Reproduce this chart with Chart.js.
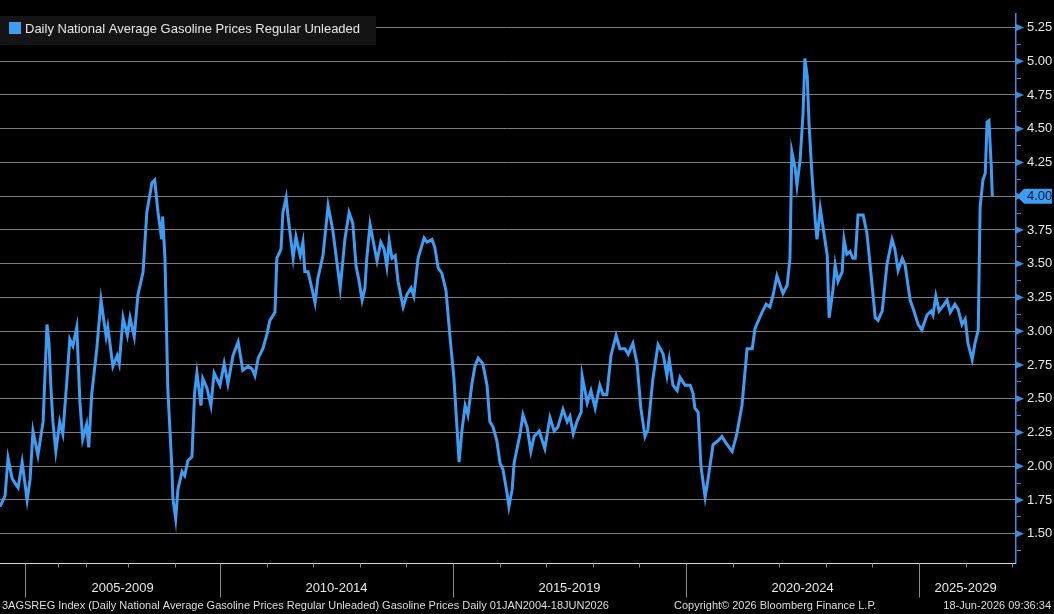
<!DOCTYPE html>
<html>
<head>
<meta charset="utf-8">
<script src="https://cdn.jsdelivr.net/npm/chart.js@4.4.1/dist/chart.umd.min.js"></script>
<style>
  html, body { margin: 0; padding: 0; background: #000; }
  #wrap { width: 1054px; height: 614px; position: relative; }
</style>
</head>
<body>
<div id="wrap"><canvas id="chart"></canvas></div>
<script>
const SERIES_LABEL = "Daily National Average Gasoline Prices Regular Unleaded";
const PERIODS = ["2005-2009", "2010-2014", "2015-2019", "2020-2024", "2025-2029"];
const PERIOD_STARTS = [2005, 2010, 2015, 2020, 2025];
const Y_TICKS = [1.50, 1.75, 2.00, 2.25, 2.50, 2.75, 3.00, 3.25, 3.50, 3.75, 4.00, 4.25, 4.50, 4.75, 5.00, 5.25];
const LAST_VALUE = 4.00;
const FOOTER_LEFT = "3AGSREG Index (Daily National Average Gasoline Prices Regular Unleaded) Gasoline Prices Daily 01JAN2004-18JUN2026";
const FOOTER_MID = "Copyright\u00a9 2026 Bloomberg Finance L.P.";
const FOOTER_RIGHT = "18-Jun-2026 09:36:34";

// decimal year
const DATES = [
  2004.00, 2004.20, 2004.32, 2004.48, 2004.68, 2004.72, 2004.88, 2005.06, 2005.15, 2005.24,
  2005.39, 2005.55, 2005.67, 2005.73, 2005.79, 2005.85, 2005.94, 2006.07, 2006.18, 2006.32,
  2006.43, 2006.54, 2006.68, 2006.79, 2006.89, 2007.02, 2007.07, 2007.14, 2007.26, 2007.36,
  2007.48, 2007.52, 2007.64, 2007.74, 2007.79, 2007.88, 2007.98, 2008.04, 2008.13, 2008.21,
  2008.32, 2008.40, 2008.51, 2008.57, 2008.64, 2008.72, 2008.74, 2008.79, 2008.85, 2008.89,
  2008.94, 2008.96, 2009.02, 2009.07, 2009.16, 2009.22, 2009.29, 2009.38, 2009.44, 2009.49,
  2009.58, 2009.62, 2009.71, 2009.80, 2009.87, 2010.00, 2010.09, 2010.17, 2010.28, 2010.39,
  2010.49, 2010.60, 2010.69, 2010.75, 2010.82, 2010.92, 2011.01, 2011.07, 2011.18, 2011.22,
  2011.31, 2011.35, 2011.42, 2011.46, 2011.57, 2011.63, 2011.72, 2011.78, 2011.82, 2011.89,
  2011.97, 2012.04, 2012.10, 2012.21, 2012.32, 2012.42, 2012.58, 2012.68, 2012.77, 2012.85,
  2012.92, 2012.98, 2013.05, 2013.11, 2013.15, 2013.22, 2013.28, 2013.37, 2013.45, 2013.52,
  2013.58, 2013.63, 2013.69, 2013.76, 2013.82, 2013.93, 2014.01, 2014.10, 2014.16, 2014.25,
  2014.38, 2014.44, 2014.55, 2014.61, 2014.68, 2014.76, 2014.85, 2014.94, 2015.02, 2015.09,
  2015.13, 2015.19, 2015.26, 2015.32, 2015.41, 2015.47, 2015.54, 2015.64, 2015.73, 2015.79,
  2015.86, 2015.94, 2016.01, 2016.07, 2016.16, 2016.20, 2016.27, 2016.31, 2016.35, 2016.44,
  2016.50, 2016.59, 2016.67, 2016.74, 2016.85, 2016.97, 2017.08, 2017.17, 2017.25, 2017.36,
  2017.45, 2017.51, 2017.58, 2017.66, 2017.75, 2017.77, 2017.88, 2017.96, 2018.05, 2018.15,
  2018.22, 2018.30, 2018.39, 2018.50, 2018.58, 2018.69, 2018.76, 2018.86, 2018.95, 2019.03,
  2019.12, 2019.18, 2019.29, 2019.40, 2019.51, 2019.59, 2019.64, 2019.72, 2019.81, 2019.87,
  2019.98, 2020.09, 2020.15, 2020.19, 2020.26, 2020.32, 2020.41, 2020.47, 2020.58, 2020.69,
  2020.77, 2020.88, 2020.99, 2021.09, 2021.20, 2021.31, 2021.42, 2021.48, 2021.63, 2021.72,
  2021.80, 2021.87, 2021.95, 2022.02, 2022.08, 2022.17, 2022.23, 2022.27, 2022.34, 2022.38,
  2022.45, 2022.51, 2022.55, 2022.60, 2022.64, 2022.70, 2022.77, 2022.81, 2022.88, 2022.94,
  2023.03, 2023.07, 2023.15, 2023.20, 2023.26, 2023.35, 2023.39, 2023.45, 2023.52, 2023.58,
  2023.63, 2023.69, 2023.80, 2023.88, 2023.95, 2024.06, 2024.12, 2024.21, 2024.31, 2024.42,
  2024.48, 2024.55, 2024.64, 2024.70, 2024.81, 2024.89, 2024.98, 2025.06, 2025.17, 2025.26,
  2025.30, 2025.36, 2025.43, 2025.52, 2025.60, 2025.67, 2025.77, 2025.84, 2025.92, 2025.99,
  2026.05, 2026.14, 2026.20, 2026.27, 2026.31, 2026.37, 2026.42, 2026.46, 2026.50, 2026.55,
  2026.57, 2026.59,
];

// USD per gallon
const PRICES = [
  1.70, 1.78, 2.06, 1.91, 1.85, 1.84, 2.03, 1.75, 1.90, 2.26,
  2.08, 2.33, 3.05, 2.91, 2.58, 2.33, 2.11, 2.33, 2.24, 2.62,
  2.94, 2.89, 3.03, 2.48, 2.20, 2.31, 2.14, 2.53, 2.87, 3.23,
  2.96, 3.03, 2.74, 2.82, 2.76, 3.10, 2.97, 3.10, 2.96, 3.27,
  3.44, 3.88, 4.10, 4.12, 3.88, 3.68, 3.85, 3.54, 2.58, 2.31,
  1.97, 1.76, 1.61, 1.83, 1.96, 1.93, 2.04, 2.07, 2.55, 2.69,
  2.45, 2.65, 2.58, 2.45, 2.69, 2.60, 2.76, 2.61, 2.82, 2.92,
  2.71, 2.74, 2.72, 2.67, 2.80, 2.87, 2.98, 3.08, 3.14, 3.54,
  3.61, 3.88, 3.99, 3.85, 3.54, 3.70, 3.56, 3.66, 3.44, 3.44,
  3.32, 3.21, 3.39, 3.56, 3.93, 3.75, 3.32, 3.68, 3.88, 3.80,
  3.48, 3.38, 3.23, 3.32, 3.54, 3.79, 3.68, 3.52, 3.66, 3.61,
  3.48, 3.67, 3.54, 3.56, 3.37, 3.18, 3.27, 3.32, 3.26, 3.54,
  3.69, 3.66, 3.68, 3.62, 3.47, 3.43, 3.30, 2.94, 2.65, 2.26,
  2.03, 2.26, 2.45, 2.38, 2.62, 2.74, 2.80, 2.76, 2.60, 2.33,
  2.29, 2.19, 2.02, 1.98, 1.80, 1.70, 1.83, 2.02, 2.09, 2.24,
  2.38, 2.29, 2.11, 2.22, 2.26, 2.13, 2.36, 2.26, 2.29, 2.42,
  2.33, 2.37, 2.24, 2.33, 2.40, 2.67, 2.47, 2.56, 2.43, 2.60,
  2.53, 2.53, 2.82, 2.97, 2.87, 2.87, 2.83, 2.91, 2.76, 2.43,
  2.22, 2.27, 2.65, 2.90, 2.83, 2.67, 2.79, 2.60, 2.56, 2.66,
  2.60, 2.60, 2.54, 2.43, 2.40, 2.00, 1.77, 1.90, 2.16, 2.19,
  2.22, 2.16, 2.11, 2.24, 2.45, 2.87, 2.87, 3.02, 3.14, 3.20,
  3.18, 3.27, 3.41, 3.34, 3.28, 3.34, 3.54, 4.33, 4.21, 4.08,
  4.28, 4.61, 5.02, 4.89, 4.53, 4.17, 3.83, 3.68, 3.91, 3.77,
  3.56, 3.10, 3.30, 3.49, 3.37, 3.44, 3.68, 3.57, 3.59, 3.54,
  3.54, 3.86, 3.86, 3.73, 3.49, 3.10, 3.08, 3.15, 3.49, 3.68,
  3.61, 3.45, 3.54, 3.49, 3.23, 3.15, 3.05, 3.01, 3.12, 3.15,
  3.12, 3.26, 3.15, 3.19, 3.23, 3.14, 3.20, 3.16, 3.05, 3.09,
  2.91, 2.79, 2.91, 3.01, 3.92, 4.12, 4.17, 4.55, 4.56, 4.21,
  4.01, 4.00,
];

// the terminal squeezes the early years on its time axis; 2010 onward is linear
const EARLY_YEARS = [2004, 2005, 2006, 2007, 2008, 2009, 2010];
const EARLY_AXIS = [2005.28, 2005.82, 2006.52, 2007.12, 2008.03, 2009.03, 2010];

function toAxis(t) {
  if (t >= 2010) return t;
  for (let i = 0; i < EARLY_YEARS.length - 1; i++) {
    if (t <= EARLY_YEARS[i + 1]) {
      const f = (t - EARLY_YEARS[i]) / (EARLY_YEARS[i + 1] - EARLY_YEARS[i]);
      return EARLY_AXIS[i] + f * (EARLY_AXIS[i + 1] - EARLY_AXIS[i]);
    }
  }
  return EARLY_AXIS[0];
}

const LINE_COLOR = "#3e9cf2";
const AXIS_BLUE = "#3b8fe3";
const TEXT_COLOR = "#e6e6e6";
const FONT = "'Liberation Sans', Arial, sans-serif";

const isMajor = (v) => Math.abs(v * 4 - Math.round(v * 4)) < 1e-6;

const yTickValues = [];
Y_TICKS.forEach((v) => {
  yTickValues.push(v - 0.125);
  yTickValues.push(v);
});
yTickValues.push(5.25 + 0.125);

const bbgDecor = {
  id: "bbgDecor",
  beforeDraw(chart) {
    const ctx = chart.ctx;
    ctx.save();
    ctx.fillStyle = "#000";
    ctx.fillRect(0, 0, chart.width, chart.height);
    ctx.restore();
  },
  afterDraw(chart) {
    const { ctx, chartArea: a, scales } = chart;
    const x = scales.x, y = scales.y;
    ctx.save();

    // x axis baseline and year ticks
    const base = Math.round(a.bottom) + 0.5;
    ctx.strokeStyle = "#d0d0d0";
    ctx.lineWidth = 1;
    ctx.beginPath();
    ctx.moveTo(a.left, base);
    ctx.lineTo(a.right, base);
    ctx.stroke();
    ctx.strokeStyle = "#8a8a8a";
    for (let yr = 2005; yr <= 2027; yr++) {
      const px = Math.round(x.getPixelForValue(toAxis(yr))) + 0.5;
      if (px > a.right - 2) continue;
      const long = PERIOD_STARTS.includes(yr);
      ctx.beginPath();
      ctx.moveTo(px, base);
      ctx.lineTo(px, base + (long ? 34 : 4));
      ctx.stroke();
    }

    // period labels
    ctx.fillStyle = TEXT_COLOR;
    ctx.font = "13px " + FONT;
    ctx.textAlign = "center";
    ctx.textBaseline = "middle";
    PERIODS.forEach((lab, i) => {
      const x0 = x.getPixelForValue(toAxis(PERIOD_STARTS[i]));
      const x1 = i < PERIODS.length - 1 ? x.getPixelForValue(toAxis(PERIOD_STARTS[i + 1])) : a.right - 4;
      ctx.fillText(lab, (x0 + x1) / 2, 588);
    });

    // arrow heads on the major y ticks
    ctx.fillStyle = AXIS_BLUE;
    Y_TICKS.forEach((v) => {
      const py = y.getPixelForValue(v);
      ctx.beginPath();
      ctx.moveTo(a.right, py - 3.5);
      ctx.lineTo(a.right + 8, py);
      ctx.lineTo(a.right, py + 3.5);
      ctx.closePath();
      ctx.fill();
    });

    // last value tag
    const ly = y.getPixelForValue(LAST_VALUE);
    ctx.fillStyle = LINE_COLOR;
    ctx.beginPath();
    ctx.moveTo(a.right + 1, ly);
    ctx.lineTo(a.right + 8, ly - 7.5);
    ctx.lineTo(chart.width - 2, ly - 7.5);
    ctx.lineTo(chart.width - 2, ly + 7.5);
    ctx.lineTo(a.right + 8, ly + 7.5);
    ctx.closePath();
    ctx.fill();
    ctx.fillStyle = "#04182e";
    ctx.font = "13px " + FONT;
    ctx.textAlign = "left";
    ctx.fillText(LAST_VALUE.toFixed(2), a.right + 11, ly + 0.5);

    // legend
    ctx.fillStyle = "#141414";
    ctx.fillRect(0, 16, 376, 29);
    ctx.fillStyle = LINE_COLOR;
    ctx.fillRect(9, 22, 12, 12);
    ctx.fillStyle = TEXT_COLOR;
    ctx.font = "13px " + FONT;
    ctx.textAlign = "left";
    ctx.fillText(SERIES_LABEL, 25, 29);

    // footer
    ctx.font = "11px " + FONT;
    ctx.fillStyle = "#dcdcdc";
    ctx.fillText(FOOTER_LEFT, 2, 606);
    ctx.fillText(FOOTER_MID, 674, 606);
    ctx.textAlign = "right";
    ctx.fillText(FOOTER_RIGHT, chart.width - 3, 606);
    ctx.restore();
  },
};

new Chart(document.getElementById("chart"), {
  type: "line",
  data: {
    datasets: [{
      label: SERIES_LABEL,
      data: DATES.map((d, i) => ({ x: toAxis(d), y: PRICES[i] })),
      borderColor: LINE_COLOR,
      borderWidth: 3,
      pointRadius: 0,
      tension: 0,
      fill: false,
    }],
  },
  options: {
    responsive: true,
    maintainAspectRatio: false,
    animation: false,
    devicePixelRatio: 1,
    layout: { padding: { left: 0, top: 0, right: 0, bottom: 51 } },
    plugins: { legend: { display: false }, tooltip: { enabled: false } },
    scales: {
      x: {
        type: "linear",
        display: false,
        min: toAxis(2004),
        max: 2027.08,
      },
      y: {
        position: "right",
        min: 1.283,
        max: 5.351,
        afterBuildTicks(scale) {
          scale.ticks = yTickValues.filter((v) => v >= scale.min && v <= scale.max).map((v) => ({ value: v }));
        },
        afterFit(scale) { scale.width = 38; },
        border: { color: AXIS_BLUE, width: 1.5 },
        grid: {
          color: (c) => (isMajor(c.tick.value) ? "#7d7d7d" : "rgba(0,0,0,0)"),
          tickColor: (c) => (isMajor(c.tick.value) ? "rgba(0,0,0,0)" : AXIS_BLUE),
          tickLength: 5,
          lineWidth: 1,
        },
        ticks: {
          autoSkip: false,
          color: TEXT_COLOR,
          padding: 6,
          font: { family: FONT, size: 13 },
          callback: (v) => (isMajor(v) ? Number(v).toFixed(2) : ""),
        },
      },
    },
  },
  plugins: [bbgDecor],
});
</script>
</body>
</html>
